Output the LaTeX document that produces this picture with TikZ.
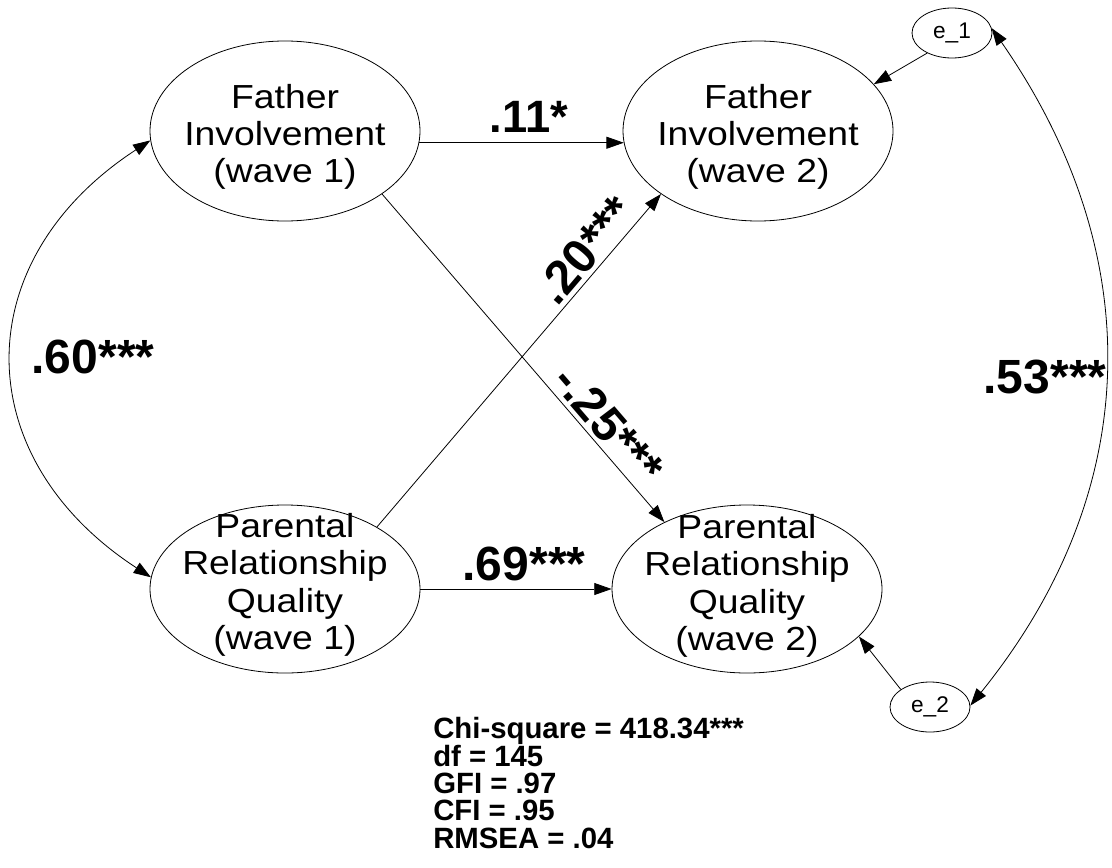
\documentclass[tikz,border=0pt]{standalone}
\usepackage{fontspec}
\setmainfont{Liberation Sans}
\newfontfamily\varfont[FakeStretch=1.12]{Liberation Sans}
\usetikzlibrary{shapes.geometric,arrows.meta}

\begin{document}
\begin{tikzpicture}[x=0.75pt,y=-0.75pt,
  latent/.style={draw, ellipse, line width=0.6pt, inner sep=0pt, minimum width=202.5pt},
  errvar/.style={draw, ellipse, line width=0.6pt, inner sep=0pt, minimum width=60pt, minimum height=37.5pt,
    font=\fontsize{17}{18}\selectfont},
  vname/.style={align=center, inner sep=0pt, font=\varfont\fontsize{25}{28}\selectfont},
  coef/.style={inner sep=0pt, font=\bfseries\fontsize{36}{40}\selectfont},
  regpath/.style={line width=0.6pt, -{Triangle[length=13pt,width=9pt]}},
  covpath/.style={line width=0.6pt, {Triangle[length=13pt,width=9pt]}-{Triangle[length=13pt,width=9pt]}}
]
\useasboundingbox (0,0) rectangle (1112,867);

% latent variables
\node[latent, minimum height=135pt] (fi1) at (285,131) {};
\node[latent, minimum height=135pt] (fi2) at (758,131) {};
\node[latent, minimum height=126pt] (prq1) at (285,589) {};
\node[latent, minimum height=126pt] (prq2) at (747,589) {};
\node[vname] (fi1t) at (285,137) {Father\\Involvement\\(wave 1)};
\node[vname] (fi2t) at (758,137) {Father\\Involvement\\(wave 2)};
\node[vname] (prq1t) at (285,585) {Parental\\Relationship\\Quality\\(wave 1)};
\node[vname] (prq2t) at (747,586) {Parental\\Relationship\\Quality\\(wave 2)};

% residuals
\node[errvar] (e1) at (952,33) {e\_1};
\node[errvar] (e2) at (930,707) {e\_2};

% regression paths
\draw[regpath] (fi1.-5) -- (fi2.185);
\draw[regpath] (prq1.east) -- (prq2.west);
\draw[regpath] (fi1.327) -- (prq2.141)
  node[coef, pos=0.745, sloped, above=3pt] (c25) {-.25***};
\draw[regpath] (prq1.34) -- (fi2.213)
  node[coef, pos=0.79, sloped, above=3pt] (c20) {.20***};
\draw[regpath] (e1.219) -- (fi2.22);
\draw[regpath] (e2.149) -- (prq2.337);

% covariances
\draw[covpath] (fi1.184) .. controls +(-184,120) and +(-184,-120) .. (prq1.175);
\draw[covpath] (e1.7) .. controls +(155,223) and +(176,-218) .. (e2.2);

% coefficients
\node[coef, anchor=base, font=\bfseries\fontsize{34}{38}\selectfont] (c11) at (529,132) {.11*};
\node[coef, anchor=base] (c69) at (524,580) {.69***};
\node[coef, anchor=base] (c60) at (93,373) {.60***};
\node[coef, anchor=base] (c53) at (1045,393) {.53***};

% fit statistics
\node[anchor=north west, inner sep=0pt, align=left, font=\bfseries\fontsize{22}{20.6}\selectfont] (fit) at (433,717)
  {Chi-square = 418.34***\\df = 145\\GFI = .97\\CFI = .95\\RMSEA = .04};
\end{tikzpicture}
\end{document}
